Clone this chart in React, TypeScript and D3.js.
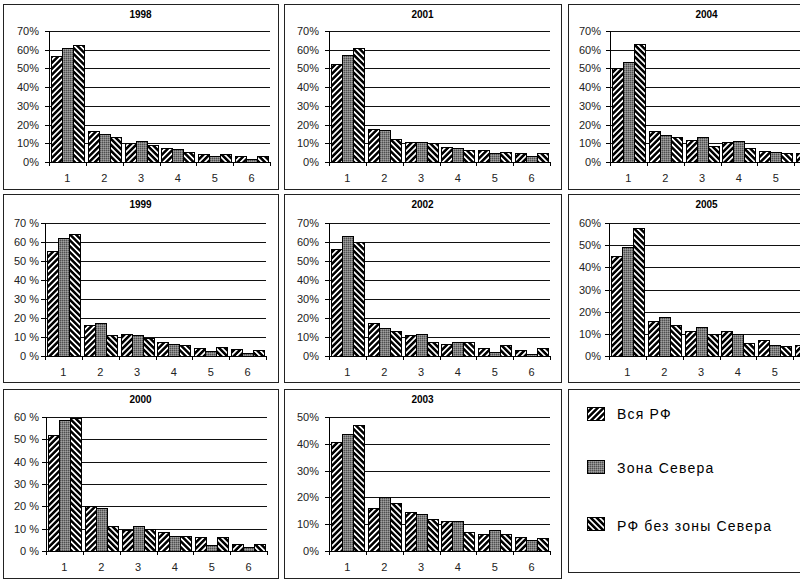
import React from 'react';
import * as d3 from 'd3';

const categories = ['1', '2', '3', '4', '5', '6'];
const seriesNames = ['Вся РФ', 'Зона Севера', 'РФ без зоны Севера'];
const years = ['1998', '1999', '2000', '2001', '2002', '2003', '2004', '2005'];
const yMaxByYear = [70, 70, 60, 70, 70, 50, 70, 60];
const pctSepByYear = ['', ' ', ' ', '', '', '', '', ''];

// values in %, one row per year (same order as `years`)
const allRF = [
  [56.5, 16.5, 10.1, 7.6, 4.4, 3.4],
  [55.4, 16.2, 11.5, 7.4, 4.2, 3.5],
  [51.8, 20.0, 9.6, 8.4, 6.1, 3.3],
  [52.2, 17.6, 10.8, 8.0, 6.6, 4.8],
  [56.4, 17.5, 11.3, 6.2, 4.1, 3.0],
  [40.5, 16.0, 14.6, 11.2, 6.4, 5.3],
  [50.0, 16.7, 11.7, 10.5, 5.7, 4.8],
  [45.3, 15.9, 11.4, 11.1, 7.0, 4.8],
];
const northZone = [
  [61.0, 14.7, 11.2, 6.9, 3.2, 1.8],
  [62.1, 17.3, 10.8, 6.5, 2.8, 1.4],
  [58.8, 19.1, 11.0, 6.9, 2.5, 1.8],
  [57.3, 17.2, 10.8, 7.3, 4.6, 3.2],
  [63.2, 14.6, 11.5, 7.2, 2.3, 1.2],
  [43.5, 20.1, 13.8, 11.2, 7.8, 4.2],
  [53.3, 14.5, 13.2, 11.0, 5.2, 3.5],
  [49.0, 17.4, 12.9, 10.0, 5.1, 3.6],
];
const rfWithoutNorth = [
  [62.3, 13.6, 8.9, 5.1, 4.3, 3.4],
  [64.2, 11.3, 9.5, 5.6, 4.8, 3.0],
  [59.4, 11.2, 10.0, 6.9, 6.1, 3.3],
  [60.8, 12.2, 10.3, 6.6, 5.2, 4.6],
  [60.2, 13.0, 7.6, 7.2, 6.0, 4.2],
  [47.2, 17.9, 12.0, 7.2, 6.2, 4.8],
  [63.0, 13.2, 8.4, 7.5, 4.9, 4.2],
  [57.8, 13.8, 10.0, 6.0, 4.5, 4.3],
];

// ---- layout (not data) ----
const W = 800;
const H = 582;
const COL_LEFT = [3, 284, 568];
const COL_W = [275, 277, 277];
const ROW_TOP = [4, 194, 389];
const ROW_BOTTOM = [189, 382, 578];
const PLOT_TOP = [31, 223, 417];
const PLOT_BOTTOM = [162, 356, 551];
const PLOT_LEFT = [
  [49, 45, 46],
  [329, 329, 329],
  [610, 609, 609],
];
const PLOT_W = 221;
const LABEL_RIGHT = [39, 319, 601];
const FONT = '"Liberation Sans", Arial, sans-serif';
const fills = ['url(#pFwd)', 'url(#pGray)', 'url(#pBack)'];

function Panel({ i }: { i: number }) {
  const col = Math.floor(i / 3);
  const row = i % 3;
  const left = COL_LEFT[col];
  const top = ROW_TOP[row];
  const pw = COL_W[col];
  const ph = ROW_BOTTOM[row] - top;
  const x0 = PLOT_LEFT[col][row];
  const yTop = PLOT_TOP[row];
  const yBot = PLOT_BOTTOM[row];
  const yMax = yMaxByYear[i];

  const x = d3.scaleBand<string>().domain(categories).range([x0, x0 + PLOT_W]).paddingInner(0.1).paddingOuter(0.05);
  const xs = d3.scaleBand<string>().domain(['0', '1', '2']).range([0, x.bandwidth()]);
  const y = d3.scaleLinear().domain([0, yMax]).range([yBot, yTop]);
  const ticks = d3.range(0, yMax + 1, 10);
  const series = [allRF[i], northZone[i], rfWithoutNorth[i]];
  const step = PLOT_W / categories.length;

  return (
    <g>
      <rect x={left + 0.5} y={top + 0.5} width={pw} height={ph} fill="#fff" stroke="#222" strokeWidth={1} />
      <text x={left + pw / 2} y={top + 14} textAnchor="middle" fontFamily={FONT} fontWeight="bold" fontSize={10} fill="#000">
        {years[i]}
      </text>
      {ticks.slice(1).map((t) => (
        <line key={'g' + t} x1={x0} x2={x0 + PLOT_W} y1={Math.round(y(t)) + 0.5} y2={Math.round(y(t)) + 0.5} stroke="#111" strokeWidth={1} />
      ))}
      {series.map((vals, s) =>
        vals.map((v, c) => {
          const bx = Math.round((x(categories[c]) as number) + (xs(String(s)) as number));
          const bx2 = Math.round((x(categories[c]) as number) + (xs(String(s)) as number) + xs.bandwidth());
          const by = Math.round(y(v));
          return (
            <rect key={s + '-' + c} x={bx + 0.5} y={by + 0.5} width={bx2 - bx} height={Math.round(yBot) - by} fill={fills[s]} stroke="#000" strokeWidth={1} />
          );
        })
      )}
      <line x1={x0 + 0.5} x2={x0 + 0.5} y1={yTop} y2={yBot + 0.5} stroke="#000" />
      <line x1={x0} x2={x0 + PLOT_W} y1={yBot + 0.5} y2={yBot + 0.5} stroke="#000" />
      {ticks.map((t) => (
        <g key={'t' + t}>
          <line x1={x0 - 4} x2={x0} y1={Math.round(y(t)) + 0.5} y2={Math.round(y(t)) + 0.5} stroke="#000" />
          <text x={LABEL_RIGHT[col]} y={y(t) + 4} textAnchor="end" fontFamily={FONT} fontSize={11} fill="#222">
            {t + pctSepByYear[i] + '%'}
          </text>
        </g>
      ))}
      {d3.range(0, categories.length + 1).map((k) => (
        <line key={'xt' + k} x1={Math.round(x0 + k * step) + 0.5} x2={Math.round(x0 + k * step) + 0.5} y1={yBot} y2={yBot + 4} stroke="#000" />
      ))}
      {categories
        .filter((c) => (x(c) as number) + x.bandwidth() / 2 + 6 < W)
        .map((c) => (
          <text key={'c' + c} x={(x(c) as number) + x.bandwidth() / 2} y={yBot + 20} textAnchor="middle" fontFamily={FONT} fontSize={11} fill="#222">
            {c}
          </text>
        ))}
    </g>
  );
}

function Legend() {
  const left = COL_LEFT[2];
  const top = ROW_TOP[2];
  const swatchY = [407, 460, 517];
  const textY = [419, 473, 531];
  return (
    <g>
      <rect x={left + 0.5} y={top + 0.5} width={COL_W[2]} height={572 - top} fill="#fff" stroke="#222" />
      {seriesNames.map((n, s) => (
        <g key={n}>
          <rect x={587.5} y={swatchY[s] + 0.5} width={17} height={13} fill={fills[s]} stroke="#000" />
          <text x={617} y={textY[s]} fontFamily={FONT} fontSize={14} letterSpacing={1.2} fill="#000">
            {n}
          </text>
        </g>
      ))}
    </g>
  );
}

export default function App() {
  return (
    <svg width={W} height={H} style={{ position: 'absolute', left: 0, top: 0, background: '#fff' }} shapeRendering="crispEdges">
      <defs>
        <pattern id="pFwd" patternUnits="userSpaceOnUse" width={4.2} height={4.2} patternTransform="rotate(45)">
          <rect width={4.2} height={4.2} fill="#fff" />
          <rect width={2.1} height={4.2} fill="#000" />
        </pattern>
        <pattern id="pBack" patternUnits="userSpaceOnUse" width={4.2} height={4.2} patternTransform="rotate(-45)">
          <rect width={4.2} height={4.2} fill="#fff" />
          <rect width={2.1} height={4.2} fill="#000" />
        </pattern>
        <pattern id="pGray" patternUnits="userSpaceOnUse" width={2} height={2}>
          <rect width={2} height={2} fill="#7e7e7e" />
          <rect width={1} height={1} fill="#505050" />
          <rect x={1} y={1} width={1} height={1} fill="#a0a0a0" />
        </pattern>
      </defs>
      <rect width={W} height={H} fill="#fff" />
      {years.map((yr, i) => (
        <Panel key={yr} i={i} />
      ))}
      <Legend />
    </svg>
  );
}
